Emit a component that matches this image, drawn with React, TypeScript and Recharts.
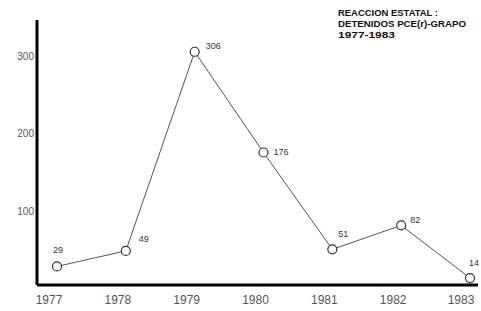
import React from "react";
import {LineChart, Line, XAxis, YAxis, LabelList} from "recharts";

// detenidos por año (valores de las etiquetas del gráfico)
const years = ["1977", "1978", "1979", "1980", "1981", "1982", "1983"];
const detenidos = [29, 49, 306, 176, 51, 82, 14];
const yTicks = [100, 200, 300];
const titleLines = ["REACCION ESTATAL :", "DETENIDOS PCE(r)-GRAPO", "1977-1983"];

// where each value label sits relative to its point
const labelOffsets = [[-4, -13], [13, -9], [11, -3], [10, 2], [6, -12], [9, -2], [-1, -12]];

const data = years.map((y, i) => ({year: y, value: detenidos[i]}));

const font = "'Liberation Sans', Arial, sans-serif";

const PointLabel = (props: any) => {
    const {x, y, value, index} = props;
    const off = labelOffsets[index] || [8, -4];
    return (
        <text x={x + off[0]} y={y + off[1]} fontSize={9} fontFamily={font} fill="#333">
            {value}
        </text>
    );
};

export default function App() {
    return (
        <div style={{position: "absolute", left: 0, top: 0, width: 481, height: 311, background: "#fff"}}>
            <LineChart width={481} height={311} data={data}
                margin={{top: 20, right: 3, left: 0, bottom: 6}}>
                <XAxis dataKey="year" padding={{left: 20, right: 8}} axisLine={{stroke: "#000", strokeWidth: 3}}
                    tickLine={false} tickMargin={4} height={20}
                    tick={{fontSize: 12, fontFamily: font, fill: "#555", dx: -8}} />
                <YAxis domain={[5, 347]} ticks={yTicks} width={37} axisLine={{stroke: "#000", strokeWidth: 3}}
                    tickLine={false} tickSize={3} tickMargin={0}
                    tick={{fontSize: 10, fontFamily: font, fill: "#555"}} />
                <Line type="linear" dataKey="value" stroke="#555" strokeWidth={1}
                    dot={{r: 4.5, fill: "#fff", stroke: "#333", strokeWidth: 1.2}}
                    isAnimationActive={false}>
                    <LabelList dataKey="value" content={PointLabel} />
                </Line>
            </LineChart>
            <svg width={481} height={311} style={{position: "absolute", left: 0, top: 0, pointerEvents: "none"}}>
                {titleLines.map((t, i) => (
                    <text key={i} x={338} y={16 + i * 11} fontSize={8.5} fontWeight="bold"
                        fontFamily={font} fill="#111"
                        textLength={i === 0 ? 100 : i === 1 ? 128 : 57} lengthAdjust="spacingAndGlyphs">
                        {t}
                    </text>
                ))}
            </svg>
        </div>
    );
}
